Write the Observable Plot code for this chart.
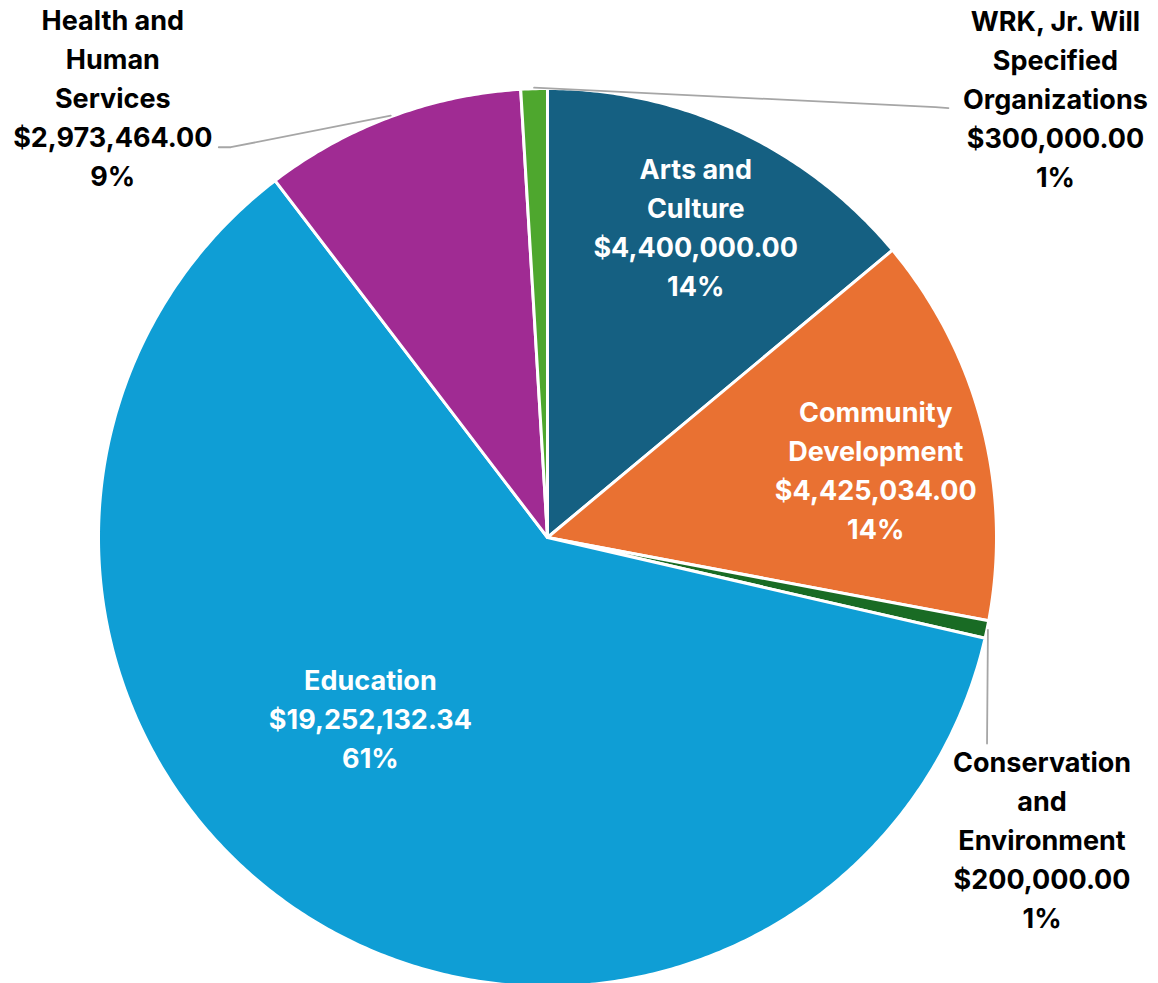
<!DOCTYPE html>
<html><head><meta charset="utf-8">
<script src="https://cdn.jsdelivr.net/npm/d3@7"></script>
<script src="https://cdn.jsdelivr.net/npm/@observablehq/plot@0.6"></script>
<style>body{margin:0;background:#fff;}</style>
</head><body><div id="chart"></div>
<script>
// ---- data ----
const categories = ["Arts and Culture","Community Development","Conservation and Environment","Education","Health and Human Services","WRK, Jr. Will Specified Organizations"];
const nameLines = [["Arts and","Culture"],["Community","Development"],["Conservation","and","Environment"],["Education"],["Health and","Human","Services"],["WRK, Jr. Will","Specified","Organizations"]];
const amounts = [4400000, 4425034, 200000, 19252132.34, 2973464, 300000];
const amountLabels = ["$4,400,000.00","$4,425,034.00","$200,000.00","$19,252,132.34","$2,973,464.00","$300,000.00"];
const percentLabels = ["14%","14%","1%","61%","9%","1%"];
const colors = ["#156082","#E97132","#196B24","#0F9ED5","#A02B93","#4EA72E"];

// ---- layout ----
const W = 1158, H = 983, cx = 547, cy = 537, R = 449;
// label anchor in polar (degrees clockwise from 12 o'clock, px from centre); inside flag
const labelPlace = [
  {angle: 25.6, radius: 343, inside: true},
  {angle: 78.5, radius: 335, inside: true},
  {angle: 121.5, radius: 580, inside: false, leader: [[-55,-97]]},
  {angle: 224.2, radius: 254, inside: true},
  {angle: 315.3, radius: 618, inside: false, leader: [[118,49],[106,49]]},
  {angle: 49.2, radius: 671, inside: false, leader: [[-120,8],[-107,9]]}
];

const polar = (a, r) => [cx + r * Math.sin(a), cy - r * Math.cos(a)];
const arcs = d3.pie().sort(null).value(d => d)(amounts);

const slices = [];
arcs.forEach((a, i) => {
  slices.push({cat: categories[i], x: cx, y: cy});
  const n = Math.max(2, Math.ceil((a.endAngle - a.startAngle) / (Math.PI / 360)));
  for (let k = 0; k <= n; k++) {
    const t = a.startAngle + (a.endAngle - a.startAngle) * k / n;
    const [x, y] = polar(t, R);
    slices.push({cat: categories[i], x, y});
  }
});

const labels = arcs.map((a, i) => {
  const p = labelPlace[i];
  const [x, y] = polar(p.angle * Math.PI / 180, p.radius);
  return {cat: categories[i], x, y, inside: p.inside,
    text: [...nameLines[i], amountLabels[i], percentLabels[i]].join("\n")};
});

const leaders = [];
arcs.forEach((a, i) => {
  const p = labelPlace[i];
  if (!p.leader) return;
  const mid = (a.startAngle + a.endAngle) / 2;
  const [sx, sy] = polar(mid, R + 1);
  leaders.push({cat: categories[i], x: sx, y: sy});
  const lab = labels[i];
  p.leader.forEach(([dx, dy]) => leaders.push({cat: categories[i], x: lab.x + dx, y: lab.y + dy}));
});

const chart = Plot.plot({
  width: W, height: H, margin: 0,
  x: {domain: [0, W], range: [0, W], axis: null},
  y: {domain: [0, H], range: [0, H], axis: null},
  color: {domain: categories, range: colors},
  marks: [
    Plot.line(slices, {x: "x", y: "y", z: "cat", fill: "cat", stroke: "white", strokeWidth: 3, strokeLinejoin: "round", curve: "linear-closed"}),
    Plot.line(leaders, {x: "x", y: "y", z: "cat", stroke: "#A6A6A6", strokeWidth: 1.8}),
    Plot.text(labels, {x: "x", y: "y", dy: -3, text: "text", fill: d => d.inside ? "white" : "black",
      fontSize: 27, fontWeight: 700, fontFamily: "Inter", lineHeight: 39 / 27})
  ]
});
document.getElementById("chart").appendChild(chart);
</script>
</body></html>
